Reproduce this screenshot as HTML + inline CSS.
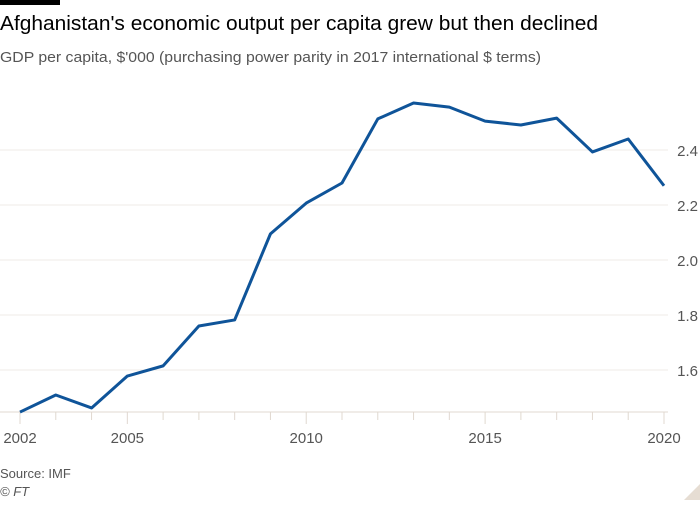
<!DOCTYPE html>
<html><head><meta charset="utf-8"><style>
body{margin:0;background:#fff;width:700px;height:500px;overflow:hidden;font-family:"Liberation Sans",sans-serif;}
</style></head><body>
<svg width="700" height="500" xmlns="http://www.w3.org/2000/svg">
<rect x="0" y="0" width="60" height="5" fill="#000"/>
<text x="0" y="30" font-size="20" fill="#000" textLength="598" lengthAdjust="spacingAndGlyphs">Afghanistan's economic output per capita grew but then declined</text>
<text x="0" y="62" font-size="15" fill="#555" textLength="541" lengthAdjust="spacingAndGlyphs">GDP per capita, $'000 (purchasing power parity in 2017 international $ terms)</text>
<g id="grid"></g><g id="xaxis"></g>
<path id="line" fill="none" stroke="#0f5499" stroke-width="3" stroke-linejoin="round"/>
<text x="0" y="478" font-size="13" fill="#555">Source: IMF</text>
<text x="0" y="496" font-size="13" font-style="italic" fill="#555">© FT</text>
<polygon points="700,484 700,500 684,500" fill="#e6ddd3"/>
</svg>
<script>
const years=[2002,2003,2004,2005,2006,2007,2008,2009,2010,2011,2012,2013,2014,2015,2016,2017,2018,2019,2020];
const values=[1.447,1.509,1.462,1.578,1.615,1.76,1.782,2.095,2.207,2.28,2.513,2.571,2.556,2.505,2.491,2.516,2.393,2.44,2.27];
const yTicks=[1.6,1.8,2.0,2.2,2.4];
const xLabels=[2002,2005,2010,2015,2020];
const NS="http://www.w3.org/2000/svg";
const x=v=>20+(v-2002)*(644/18);
const y=v=>370-(v-1.6)*275;
function mk(t,a,p){const e=document.createElementNS(NS,t);for(const k in a)e.setAttribute(k,a[k]);p.appendChild(e);return e;}
const g=document.getElementById('grid'),xa=document.getElementById('xaxis');
yTicks.forEach(v=>{
  const l=mk('line',{x1:0,x2:668,y1:y(v),y2:y(v),stroke:'#efebe7','stroke-width':1},g);
  
  
  const t=mk('text',{x:698,y:y(v)+6,'font-size':15,fill:'#555','text-anchor':'end'},g);
  t.textContent=v.toFixed(1);
  
  
});
const ax=mk('line',{x1:0,x2:668,y1:412,y2:412,stroke:'#e0d8d0','stroke-width':1},xa);


years.forEach(yr=>{
  const lab=xLabels.includes(yr);
  const tk=mk('line',{x1:x(yr),x2:x(yr),y1:412,y2:lab?424:420,stroke:'#e0d8d0','stroke-width':1},xa);
  
  
  if(lab){const t=mk('text',{x:x(yr),y:443,'font-size':15,fill:'#555','text-anchor':'middle'},xa);
  t.textContent=yr;
  
  }
});
document.getElementById('line').setAttribute('d',values.map((v,i)=>(i?'L':'M')+x(years[i])+','+y(v)).join(''));
</script>
</body></html>
